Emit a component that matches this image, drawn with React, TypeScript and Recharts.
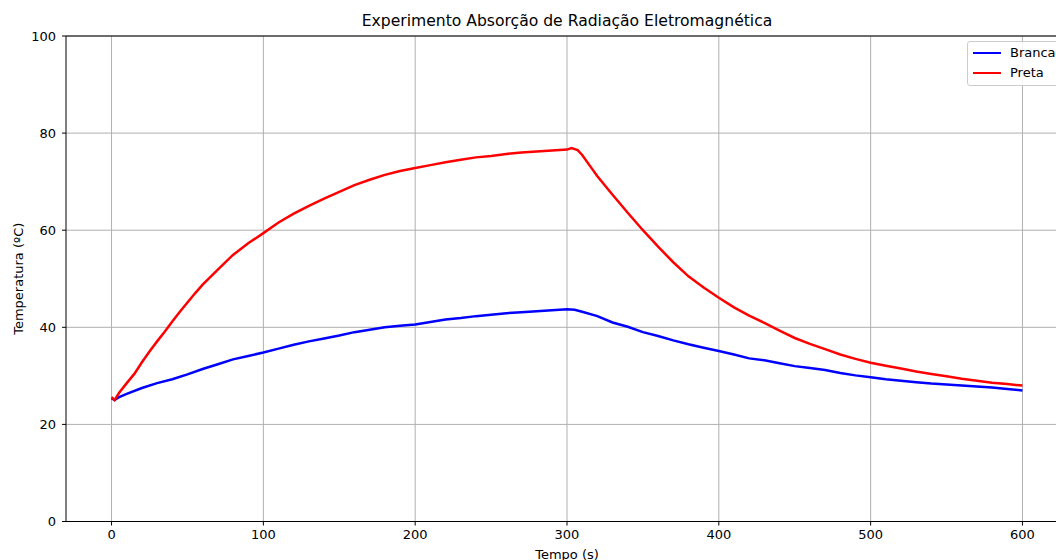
import React from 'react';
import { LineChart, Line, XAxis, YAxis, CartesianGrid, ReferenceLine, Legend } from 'recharts';

const chartTitle = 'Experimento Absorção de Radiação Eletromagnética';
const xAxisLabel = 'Tempo (s)';
const yAxisLabel = 'Temperatura (ºC)';
const xTicks = [0, 100, 200, 300, 400, 500, 600];
const yTicks = [0, 20, 40, 60, 80, 100];
const seriesNames = ['Branca', 'Preta'];
const seriesColors = ['#0000ff', '#ff0000'];

const brancaTime = [0, 2, 5, 10, 20, 30, 40, 50, 60, 70, 80, 90, 100, 110, 120, 130, 140, 150, 160, 170, 180, 190, 200, 210, 220, 230, 240, 250, 260, 270, 280, 290, 300, 305, 310, 320, 330, 340, 350, 360, 370, 380, 390, 400, 410, 420, 430, 440, 450, 460, 470, 480, 490, 500, 510, 520, 530, 540, 550, 560, 570, 580, 590, 600];
const brancaTemp = [25.4, 25.0, 25.6, 26.3, 27.5, 28.5, 29.3, 30.3, 31.4, 32.4, 33.4, 34.1, 34.8, 35.6, 36.4, 37.1, 37.7, 38.3, 39.0, 39.5, 40.0, 40.3, 40.6, 41.1, 41.6, 41.9, 42.3, 42.6, 42.9, 43.1, 43.3, 43.5, 43.7, 43.6, 43.2, 42.3, 41.0, 40.1, 39.0, 38.2, 37.3, 36.5, 35.8, 35.1, 34.4, 33.6, 33.2, 32.6, 32.0, 31.6, 31.2, 30.6, 30.1, 29.7, 29.3, 29.0, 28.7, 28.4, 28.2, 28.0, 27.8, 27.6, 27.3, 27.0];

const pretaTime = [0, 2, 5, 10, 15, 20, 25, 30, 35, 40, 45, 50, 55, 60, 70, 80, 90, 100, 110, 120, 130, 140, 150, 160, 170, 180, 190, 200, 210, 220, 230, 240, 250, 260, 270, 280, 290, 300, 303, 307, 310, 315, 320, 330, 340, 350, 360, 370, 380, 390, 400, 410, 420, 430, 440, 450, 460, 470, 480, 490, 500, 510, 520, 530, 540, 550, 560, 570, 580, 590, 600];
const pretaTemp = [25.6, 25.0, 26.5, 28.5, 30.4, 32.8, 35.0, 37.1, 39.1, 41.2, 43.2, 45.1, 47.0, 48.8, 51.9, 54.9, 57.3, 59.4, 61.6, 63.4, 65.0, 66.5, 67.9, 69.3, 70.4, 71.4, 72.2, 72.8, 73.4, 74.0, 74.5, 75.0, 75.3, 75.7, 76.0, 76.2, 76.4, 76.6, 76.9, 76.5, 75.5, 73.3, 71.1, 67.3, 63.6, 60.0, 56.6, 53.4, 50.5, 48.2, 46.1, 44.1, 42.4, 40.9, 39.3, 37.8, 36.6, 35.5, 34.4, 33.5, 32.7, 32.1, 31.5, 30.9, 30.4, 29.9, 29.4, 29.0, 28.6, 28.3, 28.0];

const brancaData = brancaTime.map((t, i) => ({ t, v: brancaTemp[i] }));
const pretaData = pretaTime.map((t, i) => ({ t, v: pretaTemp[i] }));

const FONT = '"DejaVu Sans", sans-serif';
const FS = 13;

const YLabel = (props: any) => {
  const vb = props.viewBox || {};
  const cx = 18;
  const cy = vb.height ? vb.y + vb.height / 2 : 279;
  return (
    <text x={cx} y={cy} transform={`rotate(-90 ${cx} ${cy})`} textAnchor="middle" dominantBaseline="central"
      fontFamily={FONT} fontSize={FS} fill="#000">{yAxisLabel}</text>
  );
};

const XLabel = (props: any) => {
  const vb = props.viewBox || {};
  const cx = vb.width ? vb.x + vb.width / 2 : 567;
  return (
    <text x={cx} y={554} textAnchor="middle" dominantBaseline="central"
      fontFamily={FONT} fontSize={FS} fill="#000">{xAxisLabel}</text>
  );
};

const LegendBox = () => (
  <div style={{
    width: 110, height: 45, border: '1px solid #cccccc', borderRadius: 3, background: 'rgba(255,255,255,0.85)',
    boxSizing: 'border-box', fontFamily: FONT, fontSize: FS, color: '#000', position: 'relative'
  }}>
    {seriesNames.map((n, i) => (
      <div key={n} style={{ position: 'absolute', left: 0, top: 3 + i * 20, height: 16, display: 'flex', alignItems: 'center' }}>
        <div style={{ marginLeft: 5, width: 28, height: 2, background: seriesColors[i] }} />
        <span style={{ marginLeft: 9, lineHeight: '16px' }}>{n}</span>
      </div>
    ))}
  </div>
);

export default function App() {
  return (
    <div style={{ position: 'fixed', left: 0, top: 0, width: 1056, height: 560, overflow: 'hidden', background: '#fff' }}>
      <div style={{ position: 'absolute', left: 0, width: 1134, textAlign: 'center', top: 12, fontFamily: FONT, fontSize: 15.6, lineHeight: '19px', color: '#000' }}>
        {chartTitle}
      </div>
      <div style={{ position: 'absolute', left: 0, top: 0 }}>
        <LineChart width={1080} height={560} margin={{ top: 36, right: 12, bottom: 8.5, left: 0 }}>
          <CartesianGrid stroke="#b0b0b0" strokeWidth={1} horizontalValues={yTicks} verticalValues={xTicks} />
          <XAxis type="number" dataKey="t" domain={[-30, 630]} ticks={xTicks} allowDataOverflow
            height={30} tickSize={4} tickMargin={4} stroke="#000" interval={0}
            tick={{ fontFamily: FONT, fontSize: FS, fill: '#000' }}
            axisLine={{ stroke: '#000', strokeWidth: 1 }} tickLine={{ stroke: '#000' }}
            label={<XLabel />} />
          <YAxis type="number" domain={[0, 100]} ticks={yTicks} allowDataOverflow
            width={66} tickSize={4} tickMargin={6} stroke="#000" interval={0}
            tick={{ fontFamily: FONT, fontSize: FS, fill: '#000' }}
            axisLine={{ stroke: '#000', strokeWidth: 1 }} tickLine={{ stroke: '#000' }}
            label={<YLabel />} />
          <ReferenceLine y={100} stroke="#000" strokeWidth={1} />
          <ReferenceLine x={630} stroke="#000" strokeWidth={1} />
          <Line data={brancaData} dataKey="v" name={seriesNames[0]} type="linear" stroke={seriesColors[0]}
            strokeWidth={2.5} dot={false} isAnimationActive={false} />
          <Line data={pretaData} dataKey="v" name={seriesNames[1]} type="linear" stroke={seriesColors[1]}
            strokeWidth={2.5} dot={false} isAnimationActive={false} />
          <Legend layout="horizontal" verticalAlign="middle" align="center" content={<LegendBox />}
            wrapperStyle={{ left: 967, top: 41, width: 110, height: 45 }} />
        </LineChart>
      </div>
    </div>
  );
}
